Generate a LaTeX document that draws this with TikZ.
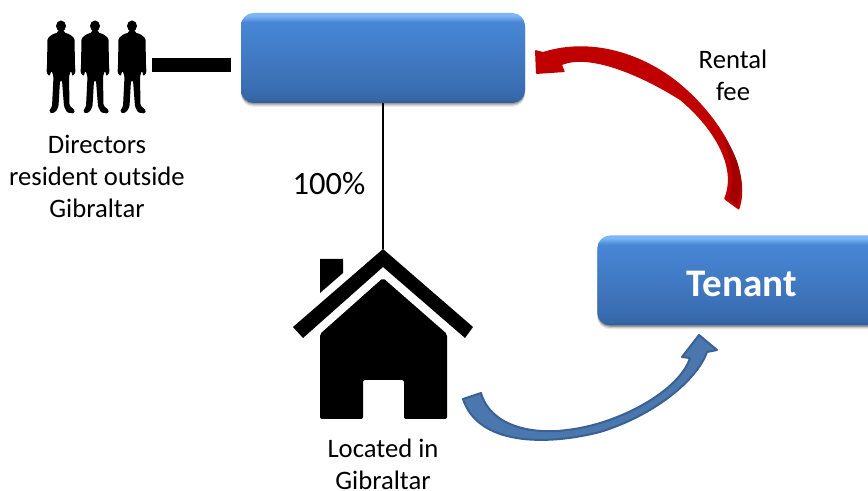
\documentclass[tikz,border=0pt]{standalone}
\usepackage{fontspec}
\setmainfont{Carlito}
\usetikzlibrary{shadows}
\definecolor{bxD}{HTML}{2F5A92}
\definecolor{bxC}{HTML}{3567A6}
\definecolor{bxB}{HTML}{3A6EB2}
\definecolor{bxA}{HTML}{4887D6}
\definecolor{bxT}{HTML}{7DB6F5}
\definecolor{arrowred}{HTML}{C00000}
\definecolor{arrowdark}{HTML}{A00000}
\definecolor{arrowblue}{HTML}{4A77AE}
\definecolor{arrowblueedge}{HTML}{3B6194}
\pgfdeclareverticalshading{boxgrad}{100bp}{
  color(0bp)=(bxD); color(25bp)=(bxD); color(27bp)=(bxC); color(33bp)=(bxB);
  color(70bp)=(bxA); color(73.5bp)=(bxT); color(75bp)=(bxT); color(100bp)=(bxT)}
\tikzset{
  bluebox/.style={rounded corners=9.5pt, shading=boxgrad, minimum height=67.5pt, inner sep=0pt, outer sep=0pt,
    general shadow={shadow xshift=0pt, shadow yshift=-3pt, fill=black, opacity=0.08, scale=1.0},
    general shadow={shadow xshift=0pt, shadow yshift=-2pt, fill=black, opacity=0.14, scale=1.0},
    general shadow={shadow xshift=0pt, shadow yshift=-1pt, fill=black, opacity=0.22, scale=1.0}},
  caption/.style={align=center, font=\fontsize{20pt}{24pt}\selectfont, inner sep=0pt, text=black},
  silhouette/.pic={
    \fill[black] (0,5.5) ellipse [x radius=5, y radius=5.5];
    \fill[black, rounded corners=1pt] (-3,9) -- (-3,12) -- (-9,14) -- (-13.5,18) -- (-14,45) -- (-14.5,52) -- (-11.5,56)
      -- (-9.5,50) -- (-7.5,56) -- (-9,86) -- (-12,91) -- (-9,93) -- (-5,91) -- (-2.5,86) -- (-1,60)
      -- (1,60) -- (3,86) -- (6,92) -- (13,93) -- (14,90) -- (8.5,85) -- (8,56) -- (10,50)
      -- (11.5,56) -- (14.5,52) -- (14,45) -- (13.5,18) -- (9,14) -- (3,12) -- (3,9) -- cycle;
  }
}
\begin{document}
\begin{tikzpicture}[x=0.75pt,y=-0.75pt]
\path[use as bounding box, clip] (0,0) rectangle (868,491);
\fill[white] (0,0) rectangle (868,491);

% boxes
\node[bluebox, minimum width=213pt] (owner) at (383,58) {};
\node[bluebox, minimum width=280pt] (tenant) at (784,280.5)
  {};
\node[font=\fontsize{29.3pt}{34pt}\selectfont\bfseries, text=white, inner sep=0pt] (tenantlabel) at (742,284) {Tenant};

% directors
\pic at (61,20.5) {silhouette};
\pic at (95,20.5) {silhouette};
\pic at (132,20.5) {silhouette};
\coordinate (directors) at (152,65);
\draw[black, line width=10.5pt, shorten >=7.5pt] (directors) -- (owner.west |- directors);
\node[caption] (dirlabel) at (97,176.5) {Directors\\resident outside\\Gibraltar};

% house
\coordinate (apex) at (383,249);
\draw[black, line width=0.9pt] (owner.south) -- (apex);
\fill[black] (apex) -- (473,327) -- (465,338) -- (383,267) -- (303,338) -- (293,327) -- cycle;
\fill[black] (320,259) -- (343,259) -- (343,273) -- (320,293) -- cycle;
\fill[black, rounded corners=1.5pt] (383,278) -- (447,334) -- (447,419) -- (404,419) -- (404,380) -- (363,380) -- (363,419) -- (320,419) -- (320,334) -- cycle;
\node[font=\fontsize{24.4pt}{28pt}\selectfont, inner sep=0pt] (pct) at (329,184) {100\%};
\node[caption] (houselabel) at (383,464) {Located in\\Gibraltar};

% rental arrow
\node[caption] (rent) at (733,75) {Rental\\fee};
\fill[arrowred, rounded corners=0.6pt] (739,210) .. controls (752,172) and (722,122) .. (687,90)
  .. controls (650,56) and (595,36) .. (543,52)
  -- (535,50) -- (536,74) -- (565,72) -- (562,65)
  .. controls (590,54) and (640,75) .. (680,100)
  .. controls (710,125) and (738,165) .. (724,199) -- cycle;
\fill[arrowdark] (729,198) -- (737,205) .. controls (747,175) and (735,150) .. (720,134)
  .. controls (728,150) and (737,172) .. cycle;

% tenant arrow
\filldraw[fill=arrowblue, draw=arrowblueedge, line width=1.5pt, line join=round]
  (463,399) -- (481,393) .. controls (490,425) and (530,435) .. (567,430)
  .. controls (620,424) and (680,390) .. (690,358)
  -- (682,357) -- (699,335) -- (717,350) -- (707,352)
  .. controls (697,380) and (655,415) .. (600,432)
  .. controls (545,446) and (478,445) .. (463,399) -- cycle;
\end{tikzpicture}
\end{document}
